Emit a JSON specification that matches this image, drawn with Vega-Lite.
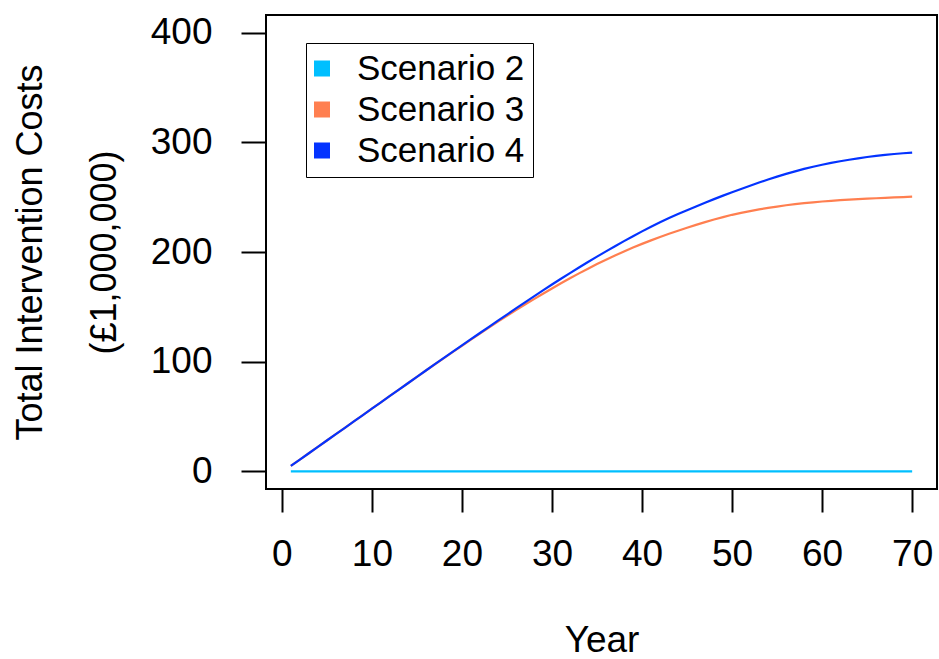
{
  "$schema": "https://vega.github.io/schema/vega-lite/v6.json",
  "width": 671,
  "height": 474,
  "autosize": {"type": "none"},
  "padding": {"left": 266, "top": 15, "right": 2, "bottom": 170},
  "background": "white",
  "config": {
    "font": "Liberation Sans",
    "view": {"stroke": "black", "strokeWidth": 2},
    "axis": {"grid": false, "domain": false, "tickColor": "black", "tickWidth": 2, "labelColor": "black", "titleColor": "black", "labelFont": "Liberation Sans", "titleFont": "Liberation Sans", "titleFontWeight": "normal"}
  },
  "data": {
    "values": [
      {"Year": 1, "Scenario 2": 0, "Scenario 3": 5, "Scenario 4": 5},
      {"Year": 2, "Scenario 2": 0, "Scenario 3": 10.8, "Scenario 4": 10.8},
      {"Year": 3, "Scenario 2": 0, "Scenario 3": 16.6, "Scenario 4": 16.6},
      {"Year": 4, "Scenario 2": 0, "Scenario 3": 22.4, "Scenario 4": 22.4},
      {"Year": 5, "Scenario 2": 0, "Scenario 3": 28.2, "Scenario 4": 28.2},
      {"Year": 6, "Scenario 2": 0, "Scenario 3": 34, "Scenario 4": 34},
      {"Year": 7, "Scenario 2": 0, "Scenario 3": 39.8, "Scenario 4": 39.8},
      {"Year": 8, "Scenario 2": 0, "Scenario 3": 45.6, "Scenario 4": 45.6},
      {"Year": 9, "Scenario 2": 0, "Scenario 3": 51.4, "Scenario 4": 51.4},
      {"Year": 10, "Scenario 2": 0, "Scenario 3": 57.2, "Scenario 4": 57.2},
      {"Year": 11, "Scenario 2": 0, "Scenario 3": 63, "Scenario 4": 63},
      {"Year": 12, "Scenario 2": 0, "Scenario 3": 68.8, "Scenario 4": 68.8},
      {"Year": 13, "Scenario 2": 0, "Scenario 3": 74.6, "Scenario 4": 74.6},
      {"Year": 14, "Scenario 2": 0, "Scenario 3": 80.4, "Scenario 4": 80.4},
      {"Year": 15, "Scenario 2": 0, "Scenario 3": 86.2, "Scenario 4": 86.2},
      {"Year": 16, "Scenario 2": 0, "Scenario 3": 92, "Scenario 4": 92},
      {"Year": 17, "Scenario 2": 0, "Scenario 3": 97.7, "Scenario 4": 97.8},
      {"Year": 18, "Scenario 2": 0, "Scenario 3": 103.3, "Scenario 4": 103.5},
      {"Year": 19, "Scenario 2": 0, "Scenario 3": 108.9, "Scenario 4": 109.2},
      {"Year": 20, "Scenario 2": 0, "Scenario 3": 114.5, "Scenario 4": 114.9},
      {"Year": 21, "Scenario 2": 0, "Scenario 3": 120.1, "Scenario 4": 120.6},
      {"Year": 22, "Scenario 2": 0, "Scenario 3": 125.6, "Scenario 4": 126.2},
      {"Year": 23, "Scenario 2": 0, "Scenario 3": 131.1, "Scenario 4": 131.8},
      {"Year": 24, "Scenario 2": 0, "Scenario 3": 136.5, "Scenario 4": 137.4},
      {"Year": 25, "Scenario 2": 0, "Scenario 3": 141.8, "Scenario 4": 143},
      {"Year": 26, "Scenario 2": 0, "Scenario 3": 147, "Scenario 4": 148.6},
      {"Year": 27, "Scenario 2": 0, "Scenario 3": 152.1, "Scenario 4": 154.1},
      {"Year": 28, "Scenario 2": 0, "Scenario 3": 157.1, "Scenario 4": 159.6},
      {"Year": 29, "Scenario 2": 0, "Scenario 3": 162, "Scenario 4": 165},
      {"Year": 30, "Scenario 2": 0, "Scenario 3": 166.8, "Scenario 4": 170.4},
      {"Year": 31, "Scenario 2": 0, "Scenario 3": 171.5, "Scenario 4": 175.6},
      {"Year": 32, "Scenario 2": 0, "Scenario 3": 176.1, "Scenario 4": 180.8},
      {"Year": 33, "Scenario 2": 0, "Scenario 3": 180.5, "Scenario 4": 185.9},
      {"Year": 34, "Scenario 2": 0, "Scenario 3": 184.8, "Scenario 4": 190.9},
      {"Year": 35, "Scenario 2": 0, "Scenario 3": 189, "Scenario 4": 195.8},
      {"Year": 36, "Scenario 2": 0, "Scenario 3": 193, "Scenario 4": 200.6},
      {"Year": 37, "Scenario 2": 0, "Scenario 3": 196.8, "Scenario 4": 205.3},
      {"Year": 38, "Scenario 2": 0, "Scenario 3": 200.5, "Scenario 4": 209.9},
      {"Year": 39, "Scenario 2": 0, "Scenario 3": 204, "Scenario 4": 214.4},
      {"Year": 40, "Scenario 2": 0, "Scenario 3": 207.4, "Scenario 4": 218.8},
      {"Year": 41, "Scenario 2": 0, "Scenario 3": 210.6, "Scenario 4": 223.1},
      {"Year": 42, "Scenario 2": 0, "Scenario 3": 213.7, "Scenario 4": 227.2},
      {"Year": 43, "Scenario 2": 0, "Scenario 3": 216.6, "Scenario 4": 231},
      {"Year": 44, "Scenario 2": 0, "Scenario 3": 219.4, "Scenario 4": 234.6},
      {"Year": 45, "Scenario 2": 0, "Scenario 3": 222.1, "Scenario 4": 238.1},
      {"Year": 46, "Scenario 2": 0, "Scenario 3": 224.7, "Scenario 4": 241.5},
      {"Year": 47, "Scenario 2": 0, "Scenario 3": 227.2, "Scenario 4": 244.9},
      {"Year": 48, "Scenario 2": 0, "Scenario 3": 229.6, "Scenario 4": 248.2},
      {"Year": 49, "Scenario 2": 0, "Scenario 3": 231.8, "Scenario 4": 251.4},
      {"Year": 50, "Scenario 2": 0, "Scenario 3": 233.9, "Scenario 4": 254.5},
      {"Year": 51, "Scenario 2": 0, "Scenario 3": 235.7, "Scenario 4": 257.5},
      {"Year": 52, "Scenario 2": 0, "Scenario 3": 237.3, "Scenario 4": 260.4},
      {"Year": 53, "Scenario 2": 0, "Scenario 3": 238.8, "Scenario 4": 263.3},
      {"Year": 54, "Scenario 2": 0, "Scenario 3": 240.2, "Scenario 4": 266.1},
      {"Year": 55, "Scenario 2": 0, "Scenario 3": 241.4, "Scenario 4": 268.7},
      {"Year": 56, "Scenario 2": 0, "Scenario 3": 242.6, "Scenario 4": 271.2},
      {"Year": 57, "Scenario 2": 0, "Scenario 3": 243.6, "Scenario 4": 273.5},
      {"Year": 58, "Scenario 2": 0, "Scenario 3": 244.5, "Scenario 4": 275.7},
      {"Year": 59, "Scenario 2": 0, "Scenario 3": 245.3, "Scenario 4": 277.7},
      {"Year": 60, "Scenario 2": 0, "Scenario 3": 246, "Scenario 4": 279.5},
      {"Year": 61, "Scenario 2": 0, "Scenario 3": 246.6, "Scenario 4": 281.2},
      {"Year": 62, "Scenario 2": 0, "Scenario 3": 247.2, "Scenario 4": 282.7},
      {"Year": 63, "Scenario 2": 0, "Scenario 3": 247.7, "Scenario 4": 284.1},
      {"Year": 64, "Scenario 2": 0, "Scenario 3": 248.2, "Scenario 4": 285.4},
      {"Year": 65, "Scenario 2": 0, "Scenario 3": 248.6, "Scenario 4": 286.6},
      {"Year": 66, "Scenario 2": 0, "Scenario 3": 249, "Scenario 4": 287.6},
      {"Year": 67, "Scenario 2": 0, "Scenario 3": 249.4, "Scenario 4": 288.5},
      {"Year": 68, "Scenario 2": 0, "Scenario 3": 249.8, "Scenario 4": 289.3},
      {"Year": 69, "Scenario 2": 0, "Scenario 3": 250.1, "Scenario 4": 290},
      {"Year": 70, "Scenario 2": 0, "Scenario 3": 250.5, "Scenario 4": 290.6}
    ]
  },
  "transform": [
    {"fold": ["Scenario 2", "Scenario 3", "Scenario 4"], "as": ["Scenario", "Cost"]}
  ],
  "mark": {"type": "line", "strokeWidth": 2.2, "clip": true},
  "encoding": {
    "x": {
      "field": "Year", "type": "quantitative",
      "scale": {"domain": [-1.76, 72.76], "nice": false, "zero": false},
      "axis": {
        "values": [0, 10, 20, 30, 40, 50, 60, 70],
        "tickSize": 23, "labelFontSize": 37, "labelPadding": 24,
        "labelBaseline": "top",
        "title": "Year", "titleFontSize": 37,
        "titleBaseline": "alphabetic", "titleAnchor": "middle",
        "titleX": 335.5, "titleY": 162
      }
    },
    "y": {
      "field": "Cost", "type": "quantitative",
      "scale": {"domain": [-16, 416], "nice": false, "zero": false},
      "axis": {
        "values": [0, 100, 200, 300, 400],
        "tickSize": 25, "labelFontSize": 37, "labelPadding": 29,
        "labelAngle": 0, "labelAlign": "right", "labelBaseline": "middle",
        "title": ["Total Intervention Costs", "(£1,000,000)"],
        "titleFontSize": 36, "titleLineHeight": 74,
        "titleAngle": -90, "titleAlign": "center", "titleBaseline": "alphabetic",
        "titleX": -225, "titleY": 237
      }
    },
    "color": {
      "field": "Scenario", "type": "nominal",
      "scale": {"domain": ["Scenario 2", "Scenario 3", "Scenario 4"], "range": ["#00BFFF", "#FF7F50", "#0433FF"]},
      "legend": {
        "title": null, "orient": "none", "legendX": 40, "legendY": 28,
        "symbolType": "square", "symbolSize": 256, "symbolStrokeWidth": 0,
        "labelFontSize": 35, "labelOffset": 27, "labelColor": "black", "labelFont": "Liberation Sans", "labelLimit": 0,
        "rowPadding": 5, "padding": 8, "strokeColor": "black", "fillColor": "white",
        "encode": {
          "symbols": {"update": {"x": {"value": 8}, "fill": {"scale": "color", "field": "value"}, "fillOpacity": {"value": 1}, "strokeWidth": {"value": 0}}},
          "labels": {"update": {"x": {"value": 43}}}
        }
      }
    }
  }
}
